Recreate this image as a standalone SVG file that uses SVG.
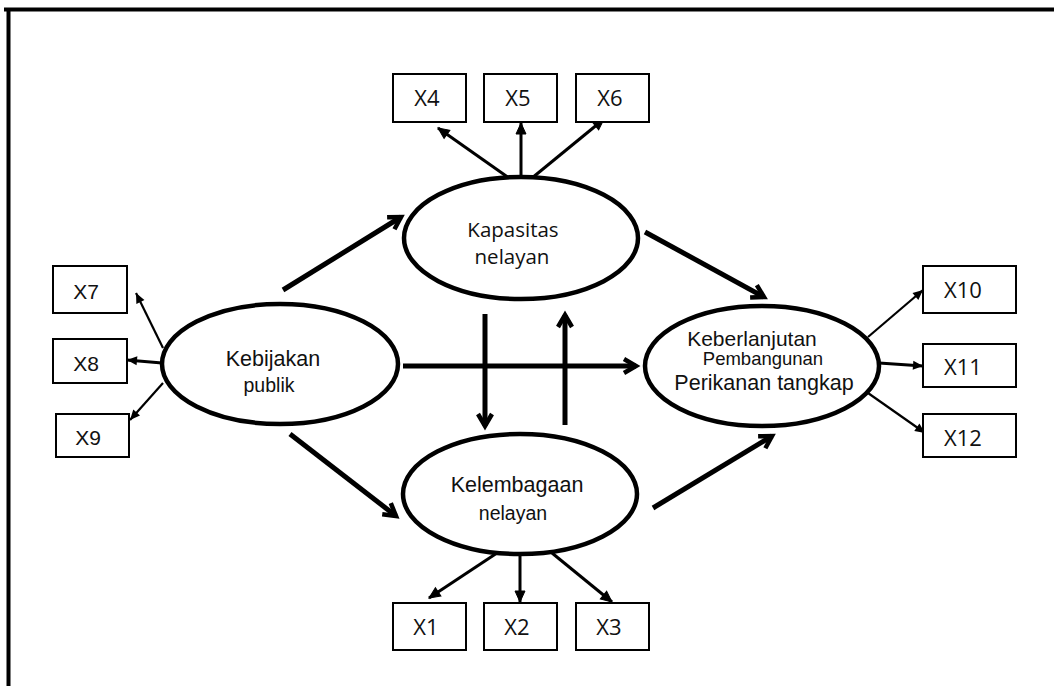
<svg xmlns="http://www.w3.org/2000/svg" width="1054" height="686" viewBox="0 0 1054 686">
<style>
.ell{fill:#fff;stroke:#000;stroke-width:4.5}
.box{fill:#fff;stroke:#000;stroke-width:2}
.os{font-family:"Open Sans","Noto Sans",sans-serif;fill:#111}
.ar{font-family:"Liberation Sans",Arial,sans-serif;fill:#111}
.thick{stroke:#000;stroke-width:5;fill:none}
.thin{stroke:#000;stroke-width:3;fill:none}
.thinner{stroke:#000;stroke-width:2.2;fill:none}
</style>
<defs>
<marker id="chev" markerUnits="userSpaceOnUse" markerWidth="20" markerHeight="20" refX="14" refY="8" orient="auto" overflow="visible">
<path d="M2,1 L14,8 L2,15" fill="none" stroke="#000" stroke-width="4.5" stroke-linejoin="miter"/>
</marker>
<marker id="tri" markerUnits="userSpaceOnUse" markerWidth="14" markerHeight="12" refX="11" refY="5" orient="auto" overflow="visible">
<path d="M0,0 L11,5 L0,10 Z" fill="#000" stroke="#000" stroke-width="1"/>
</marker>
<marker id="tri2" markerUnits="userSpaceOnUse" markerWidth="14" markerHeight="12" refX="10" refY="4.5" orient="auto" overflow="visible">
<path d="M0,0 L10,4.5 L0,9 Z" fill="#000"/>
</marker>
</defs>
<rect width="1054" height="686" fill="#fff"/>
<g id="frame">
<line x1="4" y1="9.5" x2="1054" y2="9.5" stroke="#000" stroke-width="4"/>
<line x1="8.5" y1="8" x2="8.5" y2="686" stroke="#000" stroke-width="4"/>
</g>
<g id="connectors">
<line class="thick" x1="283" y1="290" x2="401" y2="217" marker-end="url(#chev)"/>
<line class="thick" x1="403" y1="366" x2="636" y2="366" marker-end="url(#chev)"/>
<line class="thick" x1="485" y1="314" x2="485" y2="426" marker-end="url(#chev)"/>
<line class="thick" x1="565" y1="425" x2="565" y2="315" marker-end="url(#chev)"/>
<line class="thick" x1="645" y1="232" x2="764" y2="297" marker-end="url(#chev)"/>
<line class="thick" x1="290" y1="434" x2="396" y2="516" marker-end="url(#chev)"/>
<line class="thick" x1="653" y1="508" x2="772" y2="436" marker-end="url(#chev)"/>
<line class="thin" x1="509" y1="178" x2="438" y2="128" marker-end="url(#tri)"/>
<line class="thin" x1="521" y1="178" x2="521" y2="123" marker-end="url(#tri)"/>
<line class="thin" x1="532" y1="178" x2="604" y2="119" marker-end="url(#tri)"/>
<line class="thin" x1="497" y1="553" x2="429" y2="598" marker-end="url(#tri)"/>
<line class="thin" x1="520" y1="553" x2="520" y2="602" marker-end="url(#tri)"/>
<line class="thin" x1="552" y1="553" x2="612" y2="602" marker-end="url(#tri)"/>
<line class="thinner" x1="163" y1="348" x2="136" y2="293" marker-end="url(#tri2)"/>
<line class="thin" x1="162" y1="363" x2="127" y2="360" marker-end="url(#tri2)"/>
<line class="thinner" x1="163" y1="383" x2="130" y2="420" marker-end="url(#tri2)"/>
<line class="thinner" x1="868" y1="337" x2="923" y2="290" marker-end="url(#tri2)"/>
<line class="thin" x1="879" y1="363" x2="923" y2="366" marker-end="url(#tri2)"/>
<line class="thinner" x1="868" y1="393" x2="925" y2="433" marker-end="url(#tri2)"/>
</g>
<g id="kapasitas">
<ellipse class="ell" cx="521" cy="238" rx="117" ry="61"/>
<text class="os" x="513" y="237" font-size="20.5" text-anchor="middle">Kapasitas</text>
<text class="os" x="512" y="264" font-size="20.5" text-anchor="middle">nelayan</text>
</g>
<g id="kebijakan">
<ellipse class="ell" cx="280" cy="364" rx="118" ry="60"/>
<text class="ar" x="273" y="366" font-size="21.5" text-anchor="middle">Kebijakan</text>
<text class="ar" x="269" y="392" font-size="19.5" text-anchor="middle">publik</text>
</g>
<g id="keberlanjutan">
<ellipse class="ell" cx="762" cy="366" rx="117" ry="60"/>
<text class="ar" x="752" y="346" font-size="21" text-anchor="middle">Keberlanjutan</text>
<text class="ar" x="763" y="365" font-size="18.5" text-anchor="middle">Pembangunan</text>
<text class="ar" x="764" y="390" font-size="21.5" text-anchor="middle">Perikanan tangkap</text>
</g>
<g id="kelembagaan">
<ellipse class="ell" cx="520" cy="494" rx="117" ry="60"/>
<text class="ar" x="517" y="492" font-size="21.5" text-anchor="middle">Kelembagaan</text>
<text class="ar" x="513" y="520" font-size="19.5" text-anchor="middle">nelayan</text>
</g>
<g id="x4"><rect class="box" x="393" y="74" width="73" height="48"/><text class="os" x="427" y="106" font-size="22" text-anchor="middle">X4</text></g>
<g id="x5"><rect class="box" x="484" y="74" width="73" height="48"/><text class="os" x="518" y="106" font-size="22" text-anchor="middle">X5</text></g>
<g id="x6"><rect class="box" x="576" y="74" width="73" height="48"/><text class="os" x="610" y="106" font-size="22" text-anchor="middle">X6</text></g>
<g id="x1"><rect class="box" x="393" y="603" width="73" height="47"/><text class="os" x="426" y="635" font-size="22" text-anchor="middle">X1</text></g>
<g id="x2"><rect class="box" x="484" y="603" width="73" height="47"/><text class="os" x="517" y="635" font-size="22" text-anchor="middle">X2</text></g>
<g id="x3"><rect class="box" x="576" y="603" width="73" height="47"/><text class="os" x="609" y="635" font-size="22" text-anchor="middle">X3</text></g>
<g id="x7"><rect class="box" x="53" y="266" width="74" height="47"/><text class="ar" x="86" y="299" font-size="21" text-anchor="middle">X7</text></g>
<g id="x8"><rect class="box" x="53" y="339" width="74" height="44"/><text class="ar" x="86" y="371" font-size="21" text-anchor="middle">X8</text></g>
<g id="x9"><rect class="box" x="56" y="414" width="73" height="43"/><text class="ar" x="88" y="445" font-size="21" text-anchor="middle">X9</text></g>
<g id="x10"><rect class="box" x="923" y="266" width="93" height="47"/><text class="os" x="963" y="298" font-size="22" text-anchor="middle">X10</text></g>
<g id="x11"><rect class="box" x="923" y="344" width="93" height="43"/><text class="os" x="963" y="375" font-size="22" text-anchor="middle">X11</text></g>
<g id="x12"><rect class="box" x="923" y="414" width="93" height="43"/><text class="os" x="963" y="446" font-size="22" text-anchor="middle">X12</text></g>
</svg>
